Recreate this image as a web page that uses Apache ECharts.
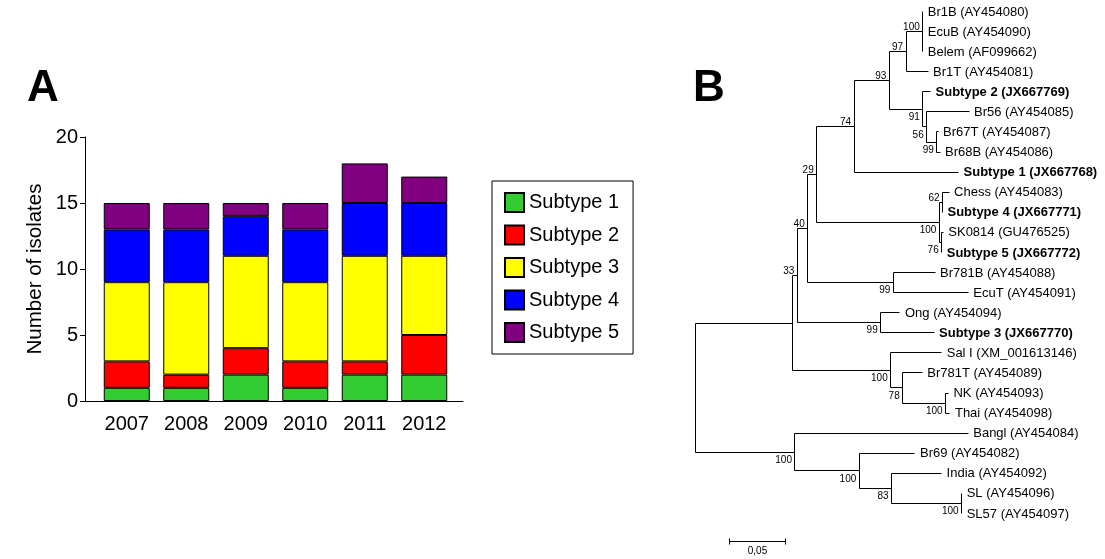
<!DOCTYPE html>
<html><head><meta charset="utf-8">
<script src="https://cdn.jsdelivr.net/npm/echarts@6/dist/echarts.min.js"></script>
<style>html,body{margin:0;padding:0;background:#fff}#c{width:1105px;height:559px}</style>
</head><body><div id="c"></div>
<script>
// ---------- Panel A data ----------
const years = ['2007', '2008', '2009', '2010', '2011', '2012'];
const subtypeNames = ['Subtype 1', 'Subtype 2', 'Subtype 3', 'Subtype 4', 'Subtype 5'];
const subtype1 = [1, 1, 2, 1, 2, 2];
const subtype2 = [2, 1, 2, 2, 1, 3];
const subtype3 = [6, 7, 7, 6, 8, 6];
const subtype4 = [4, 4, 3, 4, 4, 4];
const subtype5 = [2, 2, 1, 2, 3, 2];
const yTicks = [0, 5, 10, 15, 20];
const subtypeColors = ['#33cc33', '#ff0000', '#ffff00', '#0000ff', '#800080'];

// ---------- Panel B data (neighbour-joining tree, Newick with bootstrap) ----------
const treeNewick = "(((((((((Br1B:0,EcuB:0,Belem:0)100:0.0148,Br1T:0.0195)97:0.0148,(Subtype2:0.0069,(Br56:0.0375,(Br67T:0.0012,Br68B:0.0029)99:0.0089)56:0.0035)91:0.0296)93:0.0313,Subtype1:0.0926)74:0.0331,((Chess:0.0058,Subtype4:0)62:0.0028,(SK0814:0.0014,Subtype5:0)76:0.0021)100:0.1087)29:0.0080,(Br781B:0.0370,EcuT:0.0665)99:0.0759)40:0.0092,(Ong:0.0171,Subtype3:0.0473)99:0.0739)33:0.0041,(SalI:0.0452,(Br781T:0.0174,(NK:0.0025,Thai:0.0038)100:0.0381)78:0.0106)100:0.0869):0.0860,(Bangl:0.1536,(Br69:0.0494,(India:0.0443,(SL:0,SL57:0)100:0.0621)83:0.0287)100:0.0570)100:0.0880);";
const leafLabels = {
  Br1B: 'Br1B (AY454080)', EcuB: 'EcuB (AY454090)', Belem: 'Belem (AF099662)', Br1T: 'Br1T (AY454081)',
  Subtype2: 'Subtype 2 (JX667769)', Br56: 'Br56 (AY454085)', Br67T: 'Br67T (AY454087)', Br68B: 'Br68B (AY454086)',
  Subtype1: 'Subtype 1 (JX667768)', Chess: 'Chess (AY454083)', Subtype4: 'Subtype 4 (JX667771)',
  SK0814: 'SK0814 (GU476525)', Subtype5: 'Subtype 5 (JX667772)', Br781B: 'Br781B (AY454088)',
  EcuT: 'EcuT (AY454091)', Ong: 'Ong (AY454094)', Subtype3: 'Subtype 3 (JX667770)',
  SalI: 'Sal I (XM_001613146)', Br781T: 'Br781T (AY454089)', NK: 'NK (AY454093)', Thai: 'Thai (AY454098)',
  Bangl: 'Bangl (AY454084)', Br69: 'Br69 (AY454082)', India: 'India (AY454092)', SL: 'SL (AY454096)', SL57: 'SL57 (AY454097)'
};
const boldLeaves = ['Subtype1', 'Subtype2', 'Subtype3', 'Subtype4', 'Subtype5'];
const scaleBarLength = 0.05;
const scaleBarLabel = '0,05';

// ---------- tree parsing & layout ----------
function parseNewick(s) {
  let i = 0;
  function node() {
    const n = { children: [] };
    if (s[i] === '(') {
      i++;
      n.children.push(node());
      while (s[i] === ',') { i++; n.children.push(node()); }
      i++;
    }
    let name = '';
    while (i < s.length && ':,();'.indexOf(s[i]) < 0) name += s[i++];
    n.len = 0;
    if (s[i] === ':') {
      i++;
      let num = '';
      while (i < s.length && ',();'.indexOf(s[i]) < 0) num += s[i++];
      n.len = parseFloat(num);
    }
    if (n.children.length) n.support = name; else n.name = name;
    return n;
  }
  return node();
}
const tree = parseNewick(treeNewick);
const segs = [], leaves = [], boots = [];
let leafIdx = 0;
(function layout(n, px, isFirst) {
  n.x = px + n.len;
  if (!n.children.length) { n.y = leafIdx++; leaves.push(n); return; }
  n.children.forEach((c, k) => layout(c, n.x, k === 0));
  const f = n.children[0], l = n.children[n.children.length - 1];
  n.y = (f.y + l.y) / 2;
  segs.push([n.x, f.y, n.x, l.y]);
  n.children.forEach(c => segs.push([n.x, c.y, c.x, c.y]));
  if (n.support) boots.push({ value: [n.x, n.y, isFirst ? 1 : 0], text: n.support });
})(tree, 0, true);

// ---------- layout constants ----------
const FONT = '"Liberation Sans", Arial, sans-serif';
const pxPerUnit = 1128;
const treeXMax = 0.35;
const rowPx = 20.08;
const treeYMin = -0.5, treeYMax = 27;
const scaleBarPos = [0.0298, 26.4];
const crisp = v => Math.round(v - 0.5) + 0.5;

const chart = echarts.init(document.getElementById('c'), null, { renderer: 'canvas' });
const barSeries = [subtype1, subtype2, subtype3, subtype4, subtype5].map((d, k) => ({
  name: subtypeNames[k], type: 'bar', stack: 'total', xAxisIndex: 0, yAxisIndex: 0,
  data: d, barWidth: 46, animation: false,
  itemStyle: { color: subtypeColors[k], borderColor: '#000', borderWidth: 1 }
}));

const option = {
  animation: false,
  backgroundColor: '#fff',
  graphic: [
    { type: 'text', x: 27, y: 89, style: { text: 'A', font: 'bold 44px ' + FONT, fill: '#000', textVerticalAlign: 'middle' } },
    { type: 'text', x: 693, y: 89, style: { text: 'B', font: 'bold 44px ' + FONT, fill: '#000', textVerticalAlign: 'middle' } }
  ],
  legend: {
    data: subtypeNames, orient: 'vertical', left: 492, top: 181,
    padding: [11, 14, 11, 12], itemWidth: 19, itemHeight: 19, itemGap: 11.5, icon: 'rect',
    borderColor: '#000', borderWidth: 1, selectedMode: false,
    textStyle: { fontSize: 20, color: '#000', fontFamily: FONT }
  },
  grid: [
    { left: 97, top: 137, width: 357, height: 264, outerBoundsMode: 'none', containLabel: false },
    { left: 85, top: 137, width: 378, height: 264, outerBoundsMode: 'none', containLabel: false },
    { left: 695.7, top: 11.5 - (0 - treeYMin) * rowPx, width: treeXMax * pxPerUnit, height: (treeYMax - treeYMin) * rowPx, outerBoundsMode: 'none', containLabel: false }
  ],
  xAxis: [
    { gridIndex: 0, type: 'category', data: years, axisLine: { show: false }, axisTick: { show: false },
      axisLabel: { fontSize: 20, color: '#000', fontFamily: FONT, margin: 13 }, splitLine: { show: false } },
    { gridIndex: 1, type: 'value', min: 0, max: 1, axisLine: { show: true, lineStyle: { color: '#000', width: 1 } },
      axisTick: { show: false }, axisLabel: { show: false }, splitLine: { show: false } },
    { gridIndex: 2, type: 'value', min: 0, max: treeXMax, show: false }
  ],
  yAxis: [
    { gridIndex: 0, type: 'value', min: yTicks[0], max: yTicks[yTicks.length - 1], show: false },
    { gridIndex: 1, type: 'value', min: yTicks[0], max: yTicks[yTicks.length - 1], interval: yTicks[1] - yTicks[0],
      axisLine: { show: true, lineStyle: { color: '#000', width: 1 } },
      axisTick: { show: true, inside: false, length: 5, lineStyle: { color: '#000' } },
      axisLabel: { fontSize: 20, color: '#000', fontFamily: FONT, margin: 7 },
      splitLine: { show: false },
      name: 'Number of isolates', nameLocation: 'middle', nameRotate: 90, nameGap: 39,
      nameTextStyle: { fontSize: 20.5, color: '#000', fontFamily: FONT } },
    { gridIndex: 2, type: 'value', min: treeYMin, max: treeYMax, inverse: true, show: false }
  ],
  series: barSeries.concat([
    {
      type: 'custom', xAxisIndex: 2, yAxisIndex: 2, silent: true, clip: false,
      data: segs, encode: { x: [0, 2], y: [1, 3] },
      renderItem(params, api) {
        const a = api.coord([api.value(0), api.value(1)]);
        const b = api.coord([api.value(2), api.value(3)]);
        return { type: 'line', shape: { x1: crisp(a[0]), y1: crisp(a[1]), x2: crisp(b[0]), y2: crisp(b[1]) },
          style: { stroke: '#000', lineWidth: 1 } };
      }
    },
    {
      type: 'custom', xAxisIndex: 2, yAxisIndex: 2, silent: true, clip: false,
      data: leaves.map(n => [n.x, n.y]), encode: { x: 0, y: 1 },
      renderItem(params, api) {
        const p = api.coord([api.value(0), api.value(1)]);
        const key = leaves[params.dataIndex].name;
        const bold = boldLeaves.indexOf(key) >= 0;
        return { type: 'text', x: p[0] + 5, y: p[1] + 0.5,
          style: { text: leafLabels[key], font: (bold ? 'bold ' : '') + '13px ' + FONT, fill: '#000',
            textAlign: 'left', textVerticalAlign: 'middle' } };
      }
    },
    {
      type: 'custom', xAxisIndex: 2, yAxisIndex: 2, silent: true, clip: false,
      data: boots.map(b => b.value), encode: { x: 0, y: 1 },
      renderItem(params, api) {
        const p = api.coord([api.value(0), api.value(1)]);
        const first = api.value(2) === 1;
        return { type: 'text', x: p[0] - 3, y: first ? p[1] + 1 : p[1] + 3,
          style: { text: boots[params.dataIndex].text, font: '10px ' + FONT, fill: '#000',
            textAlign: 'right', textVerticalAlign: first ? 'bottom' : 'top' } };
      }
    },
    {
      type: 'custom', xAxisIndex: 2, yAxisIndex: 2, silent: true, clip: false,
      data: [[scaleBarPos[0], scaleBarPos[1], scaleBarPos[0] + scaleBarLength, scaleBarPos[1]]],
      encode: { x: [0, 2], y: [1, 3] },
      renderItem(params, api) {
        const a = api.coord([api.value(0), api.value(1)]);
        const b = api.coord([api.value(2), api.value(3)]);
        const y = crisp(a[1]);
        return { type: 'group', children: [
          { type: 'line', shape: { x1: crisp(a[0]), y1: y, x2: crisp(b[0]), y2: y }, style: { stroke: '#000', lineWidth: 1 } },
          { type: 'line', shape: { x1: crisp(a[0]), y1: y - 3, x2: crisp(a[0]), y2: y + 3 }, style: { stroke: '#000', lineWidth: 1 } },
          { type: 'line', shape: { x1: crisp(b[0]), y1: y - 3, x2: crisp(b[0]), y2: y + 3 }, style: { stroke: '#000', lineWidth: 1 } },
          { type: 'text', x: (a[0] + b[0]) / 2, y: y + 5,
            style: { text: scaleBarLabel, font: '10px ' + FONT, fill: '#000', textAlign: 'center', textVerticalAlign: 'top' } }
        ] };
      }
    }
  ])
};
chart.setOption(option);
</script>
</body></html>
